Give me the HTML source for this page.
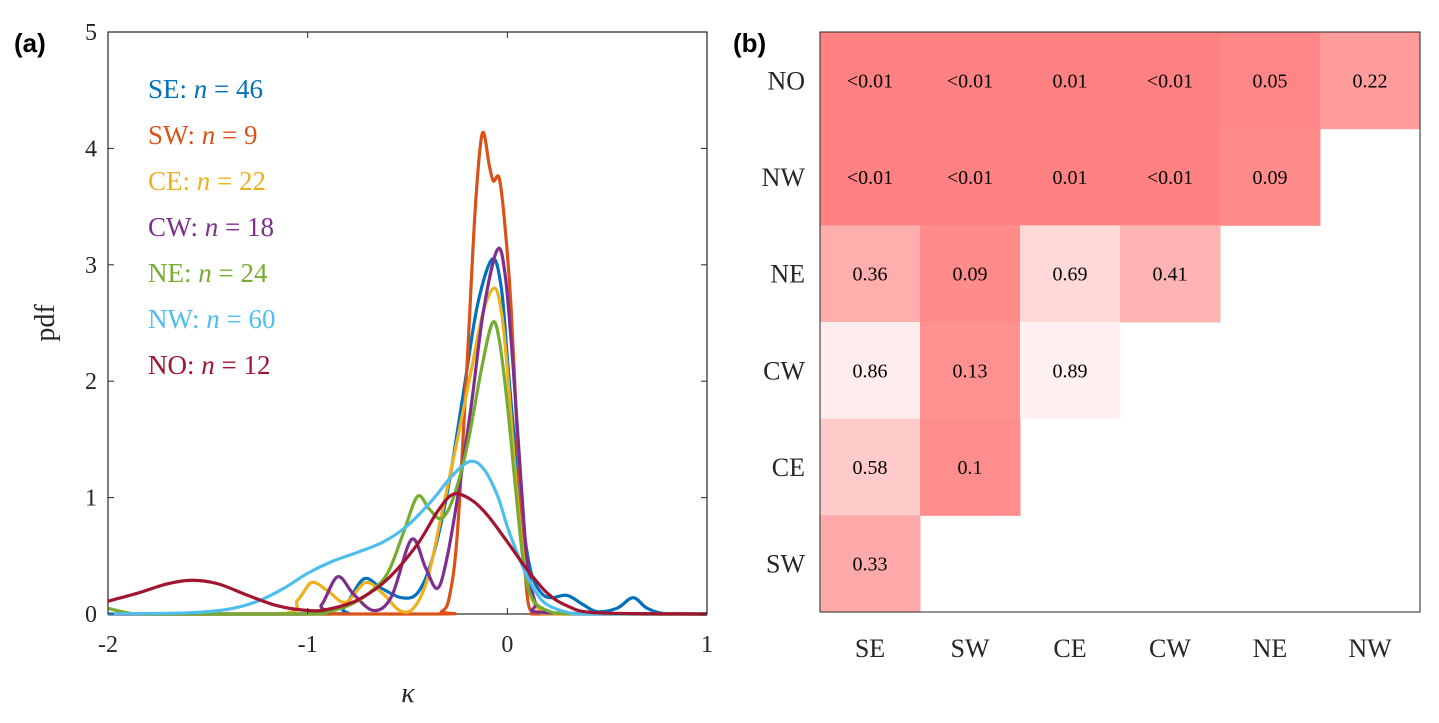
<!DOCTYPE html>
<html><head><meta charset="utf-8"><style>
body{margin:0;background:#fff;}
svg{display:block;}
.serif{font-family:"Liberation Serif",serif;}
</style></head><body>
<svg id="fig" width="1439" height="723" xmlns="http://www.w3.org/2000/svg">
<text x="14" y="52" font-family="Liberation Sans, sans-serif" font-weight="bold" font-size="26">(a)</text>
<text x="733" y="52" font-family="Liberation Sans, sans-serif" font-weight="bold" font-size="26">(b)</text>
<g id="left"></g>
<g id="right"></g>
</svg>
<script>
const NS="http://www.w3.org/2000/svg";
const seriesNames=["SE","SW","CE","CW","NE","NW","NO"];
const seriesN=[46,9,22,18,24,60,12];
const seriesColors=["#0072BD","#D95319","#EDB120","#7E2F8E","#77AC30","#4DBEEE","#A2142F"];
const xTicks=[-2,-1,0,1];
const yTicks=[0,1,2,3,4,5];
const curveSE=[[-2,0],[-0.9,0],[-0.82,0.05],[-0.72,0.3],[-0.63,0.22],[-0.53,0.14],[-0.45,0.18],[-0.38,0.45],[-0.3,1.05],[-0.22,1.9],[-0.15,2.65],[-0.075,3.05],[-0.03,2.8],[0,2.2],[0.04,1.4],[0.08,0.75],[0.12,0.35],[0.17,0.18],[0.22,0.14],[0.3,0.16],[0.38,0.08],[0.45,0.02],[0.55,0.05],[0.63,0.14],[0.7,0.05],[0.8,0],[1,0]];
const curveSW=[[-2,0],[-0.4,0],[-0.33,0.02],[-0.29,0.15],[-0.25,0.7],[-0.2,2.2],[-0.16,3.5],[-0.125,4.13],[-0.09,3.85],[-0.07,3.72],[-0.04,3.74],[-0.01,3.3],[0.02,2.6],[0.05,1.5],[0.075,0.75],[0.1,0.15],[0.13,0.01],[0.2,0],[1,0]];
const curveCE=[[-2,0],[-1.15,0],[-1.05,0.12],[-0.98,0.27],[-0.9,0.2],[-0.81,0.1],[-0.71,0.27],[-0.62,0.17],[-0.54,0.03],[-0.47,0.05],[-0.4,0.3],[-0.33,0.85],[-0.25,1.5],[-0.18,2.1],[-0.12,2.6],[-0.065,2.8],[-0.03,2.6],[0,2.1],[0.04,1.2],[0.08,0.5],[0.12,0.15],[0.17,0.03],[0.25,0],[1,0]];
const curveCW=[[-2,0],[-1,0],[-0.93,0.08],[-0.85,0.32],[-0.77,0.17],[-0.67,0.03],[-0.58,0.15],[-0.48,0.64],[-0.41,0.4],[-0.35,0.22],[-0.3,0.5],[-0.24,1.1],[-0.18,1.8],[-0.12,2.6],[-0.05,3.13],[-0.01,2.9],[0.03,2.1],[0.07,1.1],[0.1,0.45],[0.14,0.1],[0.2,0.01],[1,0]];
const curveNE=[[-2,0.05],[-1.9,0.01],[-1.8,0],[-1.0,0],[-0.9,0.02],[-0.8,0.07],[-0.7,0.17],[-0.6,0.35],[-0.52,0.7],[-0.45,1.01],[-0.39,0.9],[-0.33,0.82],[-0.27,1.0],[-0.2,1.45],[-0.13,2.1],[-0.075,2.5],[-0.04,2.35],[0,1.8],[0.04,1.1],[0.08,0.45],[0.12,0.15],[0.2,0.03],[0.35,0],[1,0]];
const curveNW=[[-2,0],[-1.6,0.01],[-1.4,0.04],[-1.25,0.11],[-1.12,0.22],[-1.0,0.35],[-0.88,0.45],[-0.75,0.53],[-0.62,0.62],[-0.5,0.76],[-0.38,0.97],[-0.28,1.18],[-0.19,1.31],[-0.12,1.25],[-0.05,1.02],[0,0.75],[0.05,0.52],[0.1,0.32],[0.15,0.17],[0.2,0.08],[0.3,0.015],[0.4,0],[1,0]];
const curveNO=[[-2,0.11],[-1.85,0.18],[-1.7,0.26],[-1.58,0.29],[-1.45,0.26],[-1.3,0.16],[-1.15,0.07],[-1.0,0.03],[-0.9,0.04],[-0.75,0.12],[-0.6,0.3],[-0.45,0.6],[-0.35,0.88],[-0.27,1.03],[-0.18,0.98],[-0.1,0.85],[0,0.62],[0.1,0.38],[0.2,0.18],[0.3,0.07],[0.45,0.01],[1,0]];
const curves=[curveSE,curveSW,curveCE,curveCW,curveNE,curveNW,curveNO];
// heatmap data
const hmCols=["SE","SW","CE","CW","NE","NW"];
const hmRows=["NO","NW","NE","CW","CE","SW"];
const hmLabels=[
 ["<0.01","<0.01","0.01","<0.01","0.05","0.22"],
 ["<0.01","<0.01","0.01","<0.01","0.09"],
 ["0.36","0.09","0.69","0.41"],
 ["0.86","0.13","0.89"],
 ["0.58","0.1"],
 ["0.33"]];
const hmValues=[
 [0.005,0.005,0.01,0.005,0.05,0.22],
 [0.005,0.005,0.01,0.005,0.09],
 [0.36,0.09,0.69,0.41],
 [0.86,0.13,0.89],
 [0.58,0.1],
 [0.33]];

function el(tag,attrs,parent,text){const e=document.createElementNS(NS,tag);for(const k in attrs)e.setAttribute(k,attrs[k]);if(text!==undefined)e.textContent=text;parent.appendChild(e);return e;}
const L=document.getElementById('left'),R=document.getElementById('right');
const X0=108,X1=707,Y0=614,Y1=32;
const sx=k=>X0+(k-(-2))/3*(X1-X0);
const sy=v=>Y0-v/5*(Y0-Y1);
function smooth(pts){let d=`M${pts[0][0]},${pts[0][1]}`;for(let i=0;i<pts.length-1;i++){const p0=pts[Math.max(0,i-1)],p1=pts[i],p2=pts[i+1],p3=pts[Math.min(pts.length-1,i+2)];
let c1y=p1[1]+(p2[1]-p0[1])/6,c2y=p2[1]-(p3[1]-p1[1])/6;
const lo=Math.max(p1[1],p2[1]);c1y=Math.min(c1y,Y0);c2y=Math.min(c2y,Y0);
d+=` C${p1[0]+(p2[0]-p0[0])/6},${c1y} ${p2[0]-(p3[0]-p1[0])/6},${c2y} ${p2[0]},${p2[1]}`;}return d;}
// axes box
const box=el('rect',{x:X0,y:Y1,width:X1-X0,height:Y0-Y1,fill:'none',stroke:'#262626','stroke-width':1.2},L);

curves.forEach((c,i)=>{const p=el('path',{d:smooth(c.map(q=>[sx(q[0]),sy(q[1])])),fill:'none',stroke:seriesColors[i],'stroke-width':3.2,'stroke-linejoin':'round'},L);
});
xTicks.forEach(t=>{const x=sx(t);el('line',{x1:x,y1:Y0,x2:x,y2:Y0-6,stroke:'#262626'},L);el('line',{x1:x,y1:Y1,x2:x,y2:Y1+6,stroke:'#262626'},L);
const tx=el('text',{x:x,y:652,'text-anchor':'middle','font-size':24,class:'serif',fill:'#262626'},L,String(t));
});
yTicks.forEach(t=>{const y=sy(t);el('line',{x1:X0,y1:y,x2:X0+6,y2:y,stroke:'#262626'},L);el('line',{x1:X1,y1:y,x2:X1-6,y2:y,stroke:'#262626'},L);
const tx=el('text',{x:97,y:y+8,'text-anchor':'end','font-size':24,class:'serif',fill:'#262626'},L,String(t));
});
const xt=el('text',{x:408,y:702,'text-anchor':'middle','font-size':28,'font-style':'italic',class:'serif',fill:'#262626'},L,'κ');

const yt=el('text',{x:0,y:0,transform:'translate(54,323) rotate(-90)','text-anchor':'middle','font-size':28,class:'serif',fill:'#262626'},L,'pdf');

seriesNames.forEach((n,i)=>{const t=el('text',{x:148,y:98+i*46,'font-size':27,class:'serif',fill:seriesColors[i]},L);

el('tspan',{},t,n+': ');el('tspan',{'font-style':'italic'},t,'n');el('tspan',{},t,' = '+seriesN[i]);});
// heatmap
const HX0=820,HX1=1420,HY0=32,HY1=612,cw=(HX1-HX0)/6,ch=(HY1-HY0)/6;
hmRows.forEach((r,ri)=>{hmValues[ri].forEach((v,ci)=>{const g=Math.round(128+127*v);
const c=el('rect',{x:HX0+ci*cw,y:HY0+ri*ch,width:cw+0.5,height:ch+0.5,fill:`rgb(255,${g},${g})`},R);

const t=el('text',{x:HX0+ci*cw+cw/2,y:HY0+ri*ch+ch/2+7,'text-anchor':'middle','font-size':20,class:'serif',fill:'#000'},R,hmLabels[ri][ci]);
});
const rl=el('text',{x:805,y:HY0+ri*ch+ch/2+9,'text-anchor':'end','font-size':26,class:'serif',fill:'#262626'},R,r);
});
hmCols.forEach((c,ci)=>{const t=el('text',{x:HX0+ci*cw+cw/2,y:657,'text-anchor':'middle','font-size':26,class:'serif',fill:'#262626'},R,c);
});
const hb=el('rect',{x:HX0,y:HY0,width:HX1-HX0,height:HY1-HY0,fill:'none',stroke:'#262626','stroke-width':1},R);

</script>
</body></html>
